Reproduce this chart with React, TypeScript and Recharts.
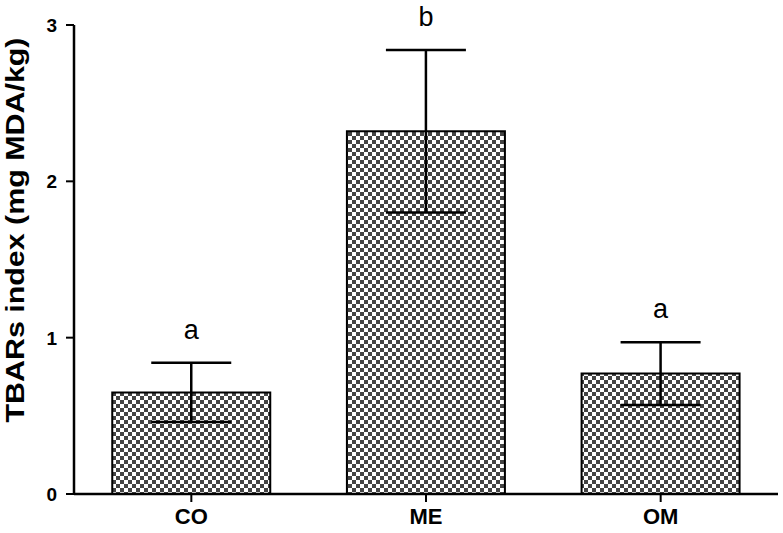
import { BarChart, Bar, XAxis, YAxis, ErrorBar, LabelList } from 'recharts';

const groups = ['CO', 'ME', 'OM'];
const tbars = [0.65, 2.32, 0.77];
const sem = [0.19, 0.52, 0.2];
const letters = ['a', 'b', 'a'];
const yTicks = [0, 1, 2, 3];

const data = groups.map((g, i) => ({ group: g, tbars: tbars[i], err: sem[i], letter: letters[i] }));

const font = '"Liberation Sans", Arial, sans-serif';

// letter above each error bar
function Letter(props: any) {
  const vb = props.viewBox || {};
  const x = vb.x ?? props.x;
  const y = vb.y ?? props.y;
  const w = vb.width ?? props.width;
  const h = vb.height ?? props.height;
  const i = props.index;
  const errTop = y - (sem[i] * h) / tbars[i];
  return (
    <text x={x + w / 2} y={errTop - 24} textAnchor="middle" fontFamily={font} fontSize={27} fill="#000">
      {props.value}
    </text>
  );
}

function YTitle() {
  return (
    <text
      x={24}
      y={230}
      transform="rotate(-90 24 230)"
      textAnchor="middle"
      fontFamily={font}
      fontWeight="bold"
      fontSize={25}
      textLength={385}
      lengthAdjust="spacingAndGlyphs"
      fill="#000"
    >
      TBARs index (mg MDA/kg)
    </text>
  );
}

function XTick(props: any) {
  const { x, payload } = props;
  return (
    <text x={x} y={508} dy="0.72em" textAnchor="middle" fontFamily={font} fontWeight="bold" fontSize={22} fill="#000">
      {payload.value}
    </text>
  );
}

function YTick(props: any) {
  const { y, payload } = props;
  return (
    <text x={57} y={y} dy="0.36em" textAnchor="end" fontFamily={font} fontWeight="bold" fontSize={19} fill="#000">
      {payload.value}
    </text>
  );
}

export default function App() {
  return (
    <div style={{ position: 'absolute', left: 0, top: 0, width: 783, height: 533, background: '#fff' }}>
      <svg width={0} height={0} style={{ position: 'absolute' }}>
        <defs>
          <pattern id="checker" width={8} height={8} patternUnits="userSpaceOnUse">
            <rect width={8} height={8} fill="#fff" />
            <rect width={4} height={4} fill="#444" />
            <rect x={4} y={4} width={4} height={4} fill="#444" />
          </pattern>
        </defs>
      </svg>
      <BarChart
        width={783}
        height={533}
        data={data}
        margin={{ top: 25, right: 5, bottom: 0, left: 0 }}
        barCategoryGap="16.3%"
      >
        <XAxis
          dataKey="group"
          height={39}
          axisLine={{ stroke: '#000', strokeWidth: 2.5 }}
          tickLine={{ stroke: '#000', strokeWidth: 2 }}
          tickSize={8}
          tick={<XTick />}
        />
        <YAxis
          width={74}
          domain={[0, 3]}
          ticks={yTicks}
          axisLine={{ stroke: '#000', strokeWidth: 2.5 }}
          tickLine={{ stroke: '#000', strokeWidth: 2 }}
          tickSize={8}
          tick={<YTick />}
          label={<YTitle />}
        />
        <Bar dataKey="tbars" fill="url(#checker)" stroke="#000" strokeWidth={2} isAnimationActive={false}>
          <ErrorBar dataKey="err" width={40} stroke="#000" strokeWidth={2.5} />
          <LabelList dataKey="letter" content={<Letter />} />
        </Bar>
      </BarChart>
    </div>
  );
}
